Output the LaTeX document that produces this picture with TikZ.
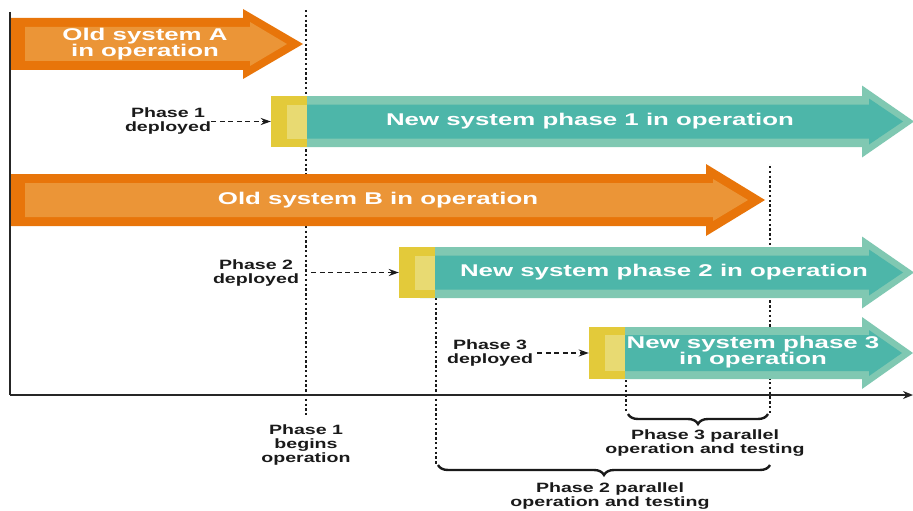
\documentclass[tikz,border=0pt]{standalone}
\usepackage{fontspec}
\setmainfont{Liberation Sans}
\usetikzlibrary{arrows.meta,decorations.pathreplacing}
\definecolor{orD}{HTML}{E8750A}
\definecolor{orL}{HTML}{EB9537}
\definecolor{teL}{HTML}{80C8B2}
\definecolor{teD}{HTML}{4DB6A9}
\definecolor{yeD}{HTML}{E3CA3A}
\definecolor{yeL}{HTML}{E8DA72}
\definecolor{ink}{HTML}{1A1A1A}
% x0, head base, tip, centre y, body half height, head half height
\newcommand\myarrow[6]{(#1,#4-#5) -- (#2,#4-#5) -- (#2,#4-#6) -- (#3,#4) -- (#2,#4+#6) -- (#2,#4+#5) -- (#1,#4+#5) -- cycle}
\begin{document}
\begin{tikzpicture}[x=1pt,y=-1pt,
  lbl/.style={font=\bfseries\fontsize{17}{16.5}\selectfont, text=white, align=center, xscale=1.52, inner sep=0pt},
  small/.style={font=\bfseries\fontsize{13.5}{14}\selectfont, text=ink, align=center, xscale=1.45, inner sep=0pt},
  ybox/.style={fill=yeD, draw=none, minimum width=36pt, minimum height=51pt, inner sep=0pt},
  dott/.style={line width=2.6pt, dash pattern=on 2.4pt off 2.4pt, draw=ink},
  dsh/.style={line width=1.6pt, dash pattern=on 5pt off 3.5pt, draw=ink, -{Stealth[length=10pt,width=7pt]}},
  ax/.style={line width=2.4pt, draw=black!85},
  brc/.style={decorate, decoration={brace, amplitude=10pt, mirror}, line width=2.4pt, draw=ink}
]
\useasboundingbox (0,0) rectangle (913,511);

% dotted time markers (beneath the bars)
\coordinate (l1t) at (306,10);  \coordinate (l1b) at (306,415);
\coordinate (l2t) at (436,298); \coordinate (l2b) at (436,465);
\coordinate (l3t) at (626,380); \coordinate (l3b) at (626,413);
\coordinate (l4t) at (770,166); \coordinate (l4b) at (770,415);
\draw[dott] (l1t) -- (l1b);
\draw[dott] (l2t) -- (l2b);
\draw[dott] (l3t) -- (l3b);
\draw[dott] (l4t) -- (l4b);

% old system A
\fill[orD] \myarrow{11}{243}{303}{44}{26}{35};
\fill[orL] \myarrow{25}{250}{287}{44}{17}{22};
\node[lbl] (oa) at (145,44) {Old system A\\in operation};

% old system B
\fill[orD] \myarrow{11}{706}{765}{200}{26}{36};
\fill[orL] \myarrow{25}{713}{748}{200}{17}{21};
\node[lbl] (ob) at (378,200) {Old system B in operation};

% new system phase 1
\fill[teL] \myarrow{300}{862}{914}{121.5}{25.5}{36};
\fill[teD] \myarrow{300}{869}{903}{121.5}{17}{23};
\node[ybox] (y1) at (289,121.5) {};
\fill[yeL] (287,104.5) rectangle (307,138.5);
\node[lbl] (n1) at (590,121.5) {New system phase 1 in operation};

% new system phase 2
\fill[teL] \myarrow{420}{862}{914}{272.5}{25.5}{36};
\fill[teD] \myarrow{420}{869}{903}{272.5}{17}{23};
\node[ybox] (y2) at (417,272.5) {};
\fill[yeL] (415,255.5) rectangle (435,289.5);
\node[lbl] (n2) at (664,272.5) {New system phase 2 in operation};

% new system phase 3
\fill[teL] \myarrow{610}{862}{913}{353}{26}{36};
\fill[teD] \myarrow{610}{869}{902}{353}{18}{23};
\node[ybox, minimum height=52pt] (y3) at (607,353) {};
\fill[yeL] (605,335) rectangle (625,371);
\node[lbl] (n3) at (753,352) {New system phase 3\\in operation};

% axes
\coordinate (top) at (10,12);
\coordinate (org) at (10,395);
\coordinate (end) at (913,395);
\draw[ax] (top) -- (org);
\draw[ax, -{Stealth[length=10pt,width=8pt]}] (org) -- (end);

% deployed labels
\node[small] (p1) at (168,121.5) {Phase 1\\deployed};
\node[small] (p2) at (256,273) {Phase 2\\deployed};
\node[small] (p3) at (490,353) {Phase 3\\deployed};
\draw[dsh] (p1.east) -- (y1.west);
\draw[dsh, shorten <=12pt] (p2.east |- y2.west) -- (y2.west);
\draw[dsh, shorten <=4pt] (p3.east |- y3.west) -- (y3.west);

% braces
\coordinate (b3a) at (628,414); \coordinate (b3b) at (768,414);
\coordinate (b2a) at (438,465); \coordinate (b2b) at (770,465);
\draw[brc] (b3a) -- (b3b);
\draw[brc] (b2a) -- (b2b);

% bottom labels
\node[small] (q1) at (306,445) {Phase 1\\begins\\operation};
\node[small] (q3) at (705,443) {Phase 3 parallel\\operation and testing};
\node[small] (q2) at (610,496) {Phase 2 parallel\\operation and testing};
\end{tikzpicture}
\end{document}
